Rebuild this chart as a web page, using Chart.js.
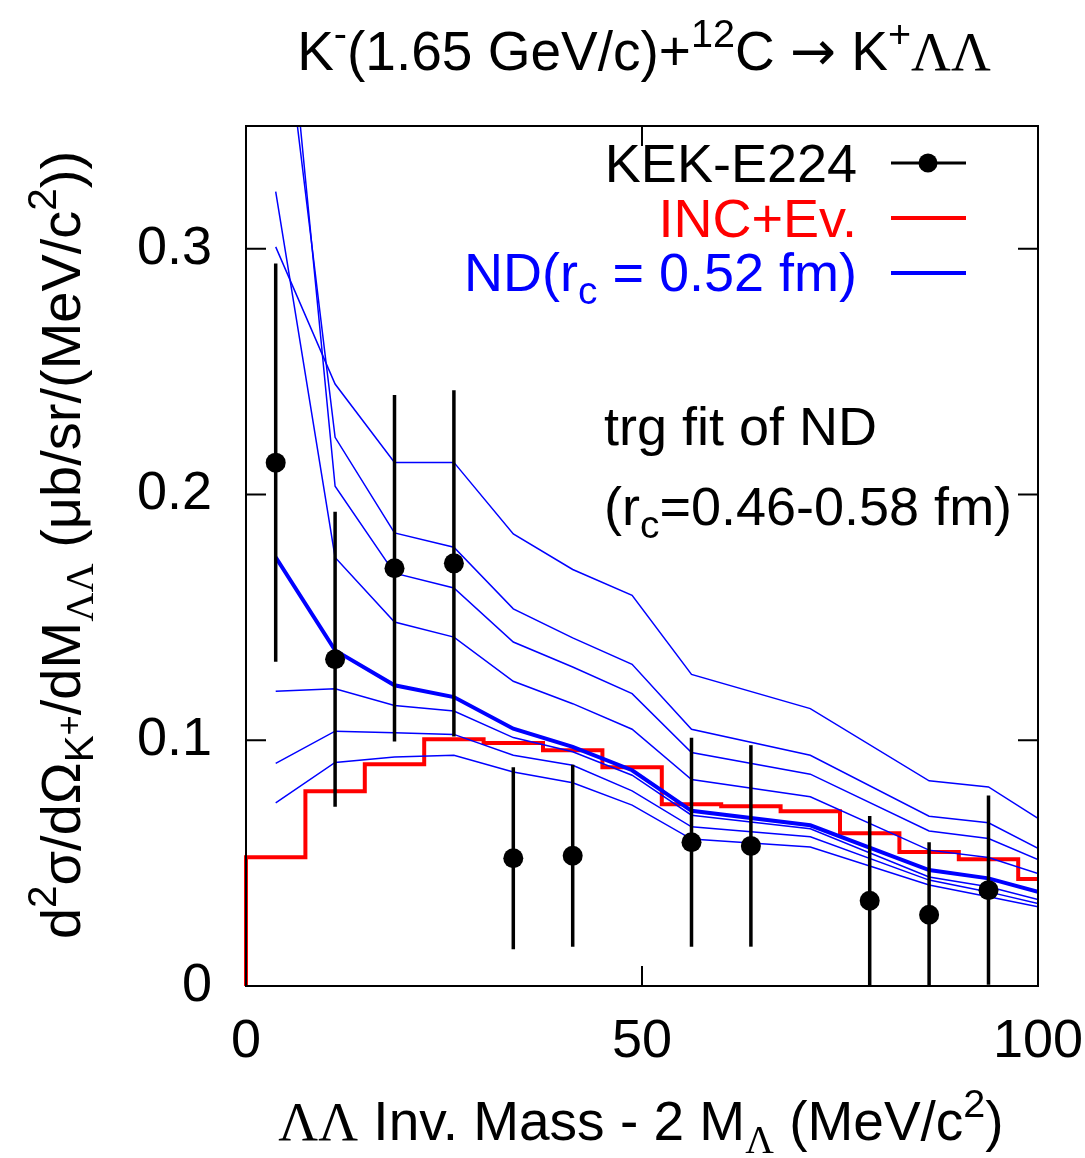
<!DOCTYPE html>
<html>
<head>
<meta charset="utf-8">
<script src="https://cdn.jsdelivr.net/npm/chart.js@4.4.1/dist/chart.umd.min.js"></script>
<style>
  html, body { margin: 0; padding: 0; background: #fff; }
  #wrap { width: 1085px; height: 1158px; }
</style>
</head>
<body>
<div id="wrap"><canvas id="chart" width="1085" height="1158"></canvas></div>
<script>
// ------------------------------------------------------------
// DATA
// ------------------------------------------------------------
const xTicks = [0, 50, 100];
const yTicks = [0, 0.1, 0.2, 0.3];

// KEK-E224 data points
const kekX   = [3.75, 11.25, 18.75, 26.25, 33.75, 41.25, 56.25, 63.75, 78.75, 86.25, 93.75];
const kekY   = [0.213, 0.133, 0.170, 0.172, 0.052, 0.053, 0.0585, 0.057, 0.0347, 0.029, 0.039];
const kekErr = [0.081, 0.060, 0.0705, 0.0705, 0.037, 0.037, 0.0425, 0.041, 0.0345, 0.0295, 0.0385];

// INC+Ev. histogram (bin lower edges, values)
const incEdges = [0, 7.5, 15, 22.5, 30, 37.5, 45, 52.5, 60, 67.5, 75, 82.5, 90, 97.5];
const incVals  = [0.0524, 0.0793, 0.0902, 0.1004, 0.0989, 0.0959, 0.089, 0.074, 0.0732, 0.0711, 0.0622, 0.0545, 0.0516, 0.0435];

// ND curves (x = kink positions)
const ndX    = [3.75, 11.25, 18.75, 26.25, 33.75, 41.25, 48.75, 56.25, 71.25, 86.25, 93.75, 100];
const ndMain = [0.1745, 0.1366, 0.1224, 0.1176, 0.1047, 0.0973, 0.0878, 0.0713, 0.0654, 0.0472, 0.0438, 0.0383];
const ndFit1 = [0.3008, 0.245, 0.2131, 0.2131, 0.184, 0.1695, 0.159, 0.1268, 0.1129, 0.0835, 0.081, 0.0682];
const ndFit2 = [0.423, 0.2233, 0.1844, 0.1786, 0.1535, 0.1417, 0.1309, 0.1045, 0.0939, 0.0691, 0.0664, 0.056];
const ndFit3 = [0.454, 0.2034, 0.168, 0.162, 0.14, 0.1298, 0.119, 0.095, 0.0862, 0.0631, 0.06, 0.0515];
const ndFit4 = [0.3233, 0.1744, 0.1481, 0.142, 0.124, 0.1149, 0.1045, 0.084, 0.077, 0.0553, 0.0523, 0.0458];
const ndFit5 = [0.120, 0.121, 0.1142, 0.1119, 0.1011, 0.0953, 0.0858, 0.0695, 0.064, 0.0444, 0.0404, 0.0352];
const ndFit6 = [0.0906, 0.1037, 0.1031, 0.1024, 0.0939, 0.0898, 0.0794, 0.0648, 0.0607, 0.0431, 0.0383, 0.0336];
const ndFit7 = [0.0745, 0.091, 0.0932, 0.0939, 0.0871, 0.0827, 0.0736, 0.0598, 0.0566, 0.0411, 0.0363, 0.0322];
const ndFits = [ndFit1, ndFit2, ndFit3, ndFit4, ndFit5, ndFit6, ndFit7];

// ------------------------------------------------------------
// HELPERS
// ------------------------------------------------------------
const SANS  = '"Liberation Sans", Arial, sans-serif';
const SERIF = '"Liberation Serif", "Times New Roman", serif';
const FS = 54;

const toXY = (xs, ys) => xs.map((x, i) => ({ x, y: ys[i] }));

// rich text: parts = [[text, kind, family]] kind: '', 'sub', 'sup', 'subsup'
const SHIFT = { '': 0, sub: 0.24, sup: -0.42, subsup: 0.02 };
const SCALE = { '': 1, sub: 0.72, sup: 0.72, subsup: 0.62 };

function partFont(p, size) {
  const s = size * SCALE[p[1] || ''];
  return `${s}px ${p[2] || SANS}`;
}

function richWidth(ctx, parts, size) {
  return parts.reduce((w, p) => {
    ctx.font = partFont(p, size);
    return w + ctx.measureText(p[0]).width;
  }, 0);
}

function drawRich(ctx, parts, x, y, size, color, align) {
  const w = richWidth(ctx, parts, size);
  let cx = align === 'center' ? x - w / 2 : align === 'right' ? x - w : x;
  ctx.fillStyle = color;
  ctx.textBaseline = 'alphabetic';
  ctx.textAlign = 'left';
  parts.forEach(p => {
    ctx.font = partFont(p, size);
    ctx.fillText(p[0], cx, y + SHIFT[p[1] || ''] * size);
    cx += ctx.measureText(p[0]).width;
  });
}

// ------------------------------------------------------------
// PLUGINS
// ------------------------------------------------------------
const errorBars = {
  id: 'errorBars',
  afterDatasetsDraw(chart) {
    const { ctx, chartArea: a, scales: { x, y } } = chart;
    ctx.save();
    ctx.beginPath();
    ctx.rect(a.left, a.top, a.right - a.left, a.bottom - a.top);
    ctx.clip();
    ctx.strokeStyle = '#000';
    ctx.lineWidth = 3.5;
    kekX.forEach((v, i) => {
      const px = x.getPixelForValue(v);
      ctx.beginPath();
      ctx.moveTo(px, y.getPixelForValue(kekY[i] - kekErr[i]));
      ctx.lineTo(px, y.getPixelForValue(kekY[i] + kekErr[i]));
      ctx.stroke();
    });
    ctx.restore();
  }
};

const frameAndText = {
  id: 'frameAndText',
  afterDraw(chart) {
    const { ctx, chartArea: a, scales: { x, y } } = chart;
    ctx.save();

    // frame + inward ticks
    ctx.strokeStyle = '#000';
    ctx.lineWidth = 2;
    ctx.strokeRect(a.left, a.top, a.right - a.left, a.bottom - a.top);
    ctx.beginPath();
    yTicks.forEach(v => {
      const py = y.getPixelForValue(v);
      ctx.moveTo(a.left, py);  ctx.lineTo(a.left + 20, py);
      ctx.moveTo(a.right, py); ctx.lineTo(a.right - 20, py);
    });
    xTicks.forEach(v => {
      const px = x.getPixelForValue(v);
      ctx.moveTo(px, a.bottom); ctx.lineTo(px, a.bottom - 20);
      ctx.moveTo(px, a.top);    ctx.lineTo(px, a.top + 20);
    });
    ctx.stroke();

    // legend
    const lx0 = 891, lx1 = 966, tx = 857;
    ctx.lineWidth = 3;
    ctx.strokeStyle = '#000';
    ctx.beginPath(); ctx.moveTo(lx0, 163); ctx.lineTo(lx1, 163); ctx.stroke();
    ctx.fillStyle = '#000';
    ctx.beginPath(); ctx.arc(928, 163, 9.5, 0, Math.PI * 2); ctx.fill();
    drawRich(ctx, [['KEK-E224']], tx, 182, FS, '#000', 'right');

    ctx.lineWidth = 4;
    ctx.strokeStyle = '#ff0000';
    ctx.beginPath(); ctx.moveTo(lx0, 218); ctx.lineTo(lx1, 218); ctx.stroke();
    drawRich(ctx, [['INC+Ev.']], tx, 237, FS, '#ff0000', 'right');

    ctx.strokeStyle = '#0000ff';
    ctx.beginPath(); ctx.moveTo(lx0, 273); ctx.lineTo(lx1, 273); ctx.stroke();
    drawRich(ctx, [['ND(r'], ['c', 'sub'], [' = 0.52 fm)']], tx, 291, FS, '#0000ff', 'right');

    // annotation
    drawRich(ctx, [['trg fit of ND']], 604, 445, FS, '#000', 'left');
    drawRich(ctx, [['(r'], ['c', 'sub'], ['=0.46-0.58 fm)']], 604, 525, FS, '#000', 'left');

    // title
    drawRich(ctx, [['K'], ['-', 'sup'], ['(1.65 GeV/c)+'], ['12', 'sup'], ['C '], ['\u2192', '', '"DejaVu Sans", sans-serif'],
      [' K'], ['+', 'sup'], ['\u039B\u039B', '', SERIF]],
      644, 70, 55, '#000', 'center');

    // x-axis title
    drawRich(ctx, [['\u039B\u039B', '', SERIF], [' Inv. Mass - 2 M'], ['\u039B', 'sub', SERIF], [' (MeV/c'], ['2', 'sup'], [')']],
      641, 1140, 55, '#000', 'center');

    // y-axis title (rotated)
    ctx.translate(80, 545);
    ctx.rotate(-Math.PI / 2);
    drawRich(ctx, [['d'], ['2', 'sup'], ['\u03C3/d\u03A9'], ['K', 'sub'], ['+', 'subsup'], ['/dM'], ['\u039B\u039B', 'sub', SERIF],
      [' (\u03BCb/sr/(MeV/c'], ['2', 'sup'], ['))']], 0, 0, 56, '#000', 'center');

    ctx.restore();
  }
};

// ------------------------------------------------------------
// CHART
// ------------------------------------------------------------
const incPts = [{ x: 0, y: 0 }]
  .concat(toXY(incEdges, incVals))
  .concat([{ x: 100, y: incVals[incVals.length - 1] }]);

const datasets = [
  {
    label: 'KEK-E224', data: toXY(kekX, kekY), showLine: false,
    pointRadius: 10, pointBackgroundColor: '#000', pointBorderWidth: 0, order: 0
  },
  {
    label: 'ND(rc = 0.52 fm)', data: toXY(ndX, ndMain), showLine: true,
    borderColor: '#0000ff', borderWidth: 4, pointRadius: 0, order: 1
  },
  ...ndFits.map((vals, i) => ({
    label: `fit ${i + 1}`, data: toXY(ndX, vals), showLine: true,
    borderColor: '#0000ff', borderWidth: 1.5, pointRadius: 0, order: 2
  })),
  {
    // 'before' = horizontal at previous value, then vertical
    label: 'INC+Ev.', data: incPts, showLine: true, stepped: 'before',
    borderColor: '#ff0000', borderWidth: 4, pointRadius: 0, order: 3,
    clip: { left: 3, top: 0, right: 0, bottom: 0 }
  }
];

new Chart(document.getElementById('chart'), {
  type: 'scatter',
  data: { datasets },
  options: {
    responsive: false,
    animation: false,
    devicePixelRatio: 1,
    layout: { padding: { top: 126, right: 47, bottom: 0, left: 0 } },
    plugins: { legend: { display: false }, tooltip: { enabled: false } },
    scales: {
      x: {
        type: 'linear', min: 0, max: 100,
        afterBuildTicks: s => { s.ticks = xTicks.map(v => ({ value: v })); },
        afterFit: s => { s.height = 172; s.paddingLeft = 0; s.paddingRight = 0; },
        grid: { display: false, drawTicks: false },
        border: { display: false },
        ticks: {
          color: '#000', padding: 24, maxRotation: 0,
          font: { family: SANS, size: FS },
          callback: v => String(v)
        }
      },
      y: {
        type: 'linear', min: 0, max: 0.35,
        afterBuildTicks: s => { s.ticks = yTicks.map(v => ({ value: v })); },
        afterFit: s => { s.width = 246; s.paddingTop = 0; s.paddingBottom = 0; },
        grid: { display: false, drawTicks: false },
        border: { display: false },
        ticks: {
          color: '#000', padding: 34,
          font: { family: SANS, size: FS },
          callback: v => String(+v.toFixed(2))
        }
      }
    }
  },
  plugins: [errorBars, frameAndText]
});
</script>
</body>
</html>
